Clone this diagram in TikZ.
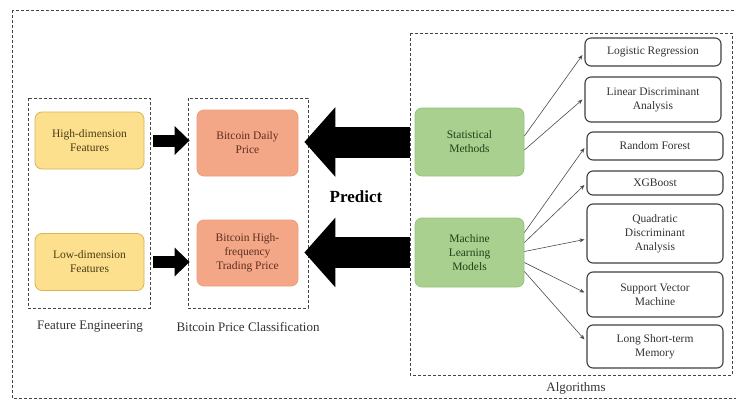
\documentclass[tikz,border=0pt]{standalone}
\usepackage{fontspec}
\setmainfont{Liberation Serif}
\usepackage{tikz}
\usetikzlibrary{arrows.meta}

\definecolor{featfill}{HTML}{FCE08E}
\definecolor{featdraw}{HTML}{D8B456}
\definecolor{feattext}{HTML}{4A3C12}
\definecolor{pricefill}{HTML}{F4A787}
\definecolor{pricedraw}{HTML}{EE9C7C}
\definecolor{pricetext}{HTML}{5C2E20}
\definecolor{modfill}{HTML}{A9D08E}
\definecolor{moddraw}{HTML}{97C47C}
\definecolor{modtext}{HTML}{23401A}
\definecolor{framegray}{HTML}{444444}

\begin{document}
\begin{tikzpicture}[x=1pt,y=-1pt,>=Stealth,
  font=\fontsize{11.5}{14}\selectfont,
  box/.style={rectangle,rounded corners=7pt,align=center,inner sep=2pt,line width=0.8pt},
  featbox/.style={box,fill=featfill,draw=featdraw,text=feattext,minimum width=109pt,minimum height=57pt},
  pricebox/.style={box,fill=pricefill,draw=pricedraw,text=pricetext,minimum width=101pt,minimum height=66pt},
  modbox/.style={box,fill=modfill,draw=moddraw,text=modtext,minimum width=109pt,minimum height=68pt},
  algbox/.style={box,rounded corners=6pt,fill=white,draw=black!75,text=black!80,line width=1.1pt,minimum width=136pt},
  frame/.style={draw=framegray,line width=0.9pt,dash pattern=on 3pt off 2pt},
  caption/.style={font=\fontsize{13}{15}\selectfont,text=black!80},
  bigarrow/.style={draw=black,line width=31pt,-{Triangle[length=31pt 0 0,width=68pt 0 0]}},
  smallarrow/.style={draw=black,line width=12pt,-{Triangle[length=15pt 0 0,width=28pt 0 0]}},
  thinarrow/.style={draw=black!70,line width=0.6pt,-{Stealth[length=5pt,width=4pt]}}]
\clip (0,0) rectangle (736,412);
\fill[white] (0,0) rectangle (736,412);

% frames
\draw[frame] (12,10) rectangle (745,398);
\draw[frame] (28,98) rectangle (150,308);
\draw[frame] (188,98) rectangle (308,308);
\draw[frame] (410,33) rectangle (732,375);
\node[caption] (featcap) at (90,327) {Feature Engineering};
\node[caption] (pricecap) at (248,327) {Bitcoin Price Classification};
\node[caption] (algcap) at (576,388) {Algorithms};

% features and prices
\node[featbox] (hidim) at (89.5,140.5) {High-dimension\\Features};
\node[featbox] (lodim) at (89.5,262) {Low-dimension\\Features};
\node[pricebox] (daily) at (247.5,143) {Bitcoin Daily\\Price};
\node[pricebox] (hifreq) at (247.5,253) {Bitcoin High-\\frequency\\Trading Price};

% models
\node[modbox] (stat) at (469.5,142) {Statistical\\Methods};
\node[modbox,minimum height=69pt] (ml) at (469.5,252.5) {Machine\\Learning\\Models};
\node[font=\bfseries\fontsize{17}{19}\selectfont] (predict) at (356,197) {Predict};

% algorithms
\node[algbox,minimum height=28pt] (lr) at (653,52) {Logistic Regression};
\node[algbox,minimum height=45pt] (lda) at (653,99.5) {Linear Discriminant\\Analysis};
\node[algbox,minimum height=28pt] (rf) at (655,146) {Random Forest};
\node[algbox,minimum height=24pt] (xgb) at (655,183) {XGBoost};
\node[algbox,minimum height=59pt] (qda) at (655,233.5) {Quadratic\\Discriminant\\Analysis};
\node[algbox,minimum height=45pt] (svm) at (655,294.5) {Support Vector\\Machine};
\node[algbox,minimum height=43pt] (lstm) at (655,346.5) {Long Short-term\\Memory};

% arrows
\draw[smallarrow,shorten <=9pt,shorten >=7pt] (hidim.east) -- (hidim.east -| daily.west);
\draw[smallarrow,shorten <=9pt,shorten >=7pt] (lodim.east) -- (lodim.east -| hifreq.west);
\draw[bigarrow,shorten <=5pt,shorten >=6pt] (stat.west) -- (stat.west -| daily.east);
\draw[bigarrow,shorten <=5pt,shorten >=6pt] (ml.west) -- (ml.west -| hifreq.east);

\draw[thinarrow] ([yshift=6pt]stat.east) -- ([xshift=-2pt,yshift=-3pt]lr.west);
\draw[thinarrow] ([yshift=-8pt]stat.east) -- ([xshift=-2pt]lda.west);
\draw[thinarrow] ([yshift=20pt]ml.east) -- ([xshift=-2pt,yshift=-2pt]rf.west);
\draw[thinarrow] ([yshift=10pt]ml.east) -- ([xshift=-2pt,yshift=-2pt]xgb.west);
\draw[thinarrow] ([yshift=1pt]ml.east) -- ([xshift=-2pt,yshift=-6pt]qda.west);
\draw[thinarrow] ([yshift=-10pt]ml.east) -- ([xshift=-2pt,yshift=2pt]svm.west);
\draw[thinarrow] ([yshift=-19pt]ml.east) -- ([xshift=-2pt,yshift=7pt]lstm.west);
\end{tikzpicture}
\end{document}
